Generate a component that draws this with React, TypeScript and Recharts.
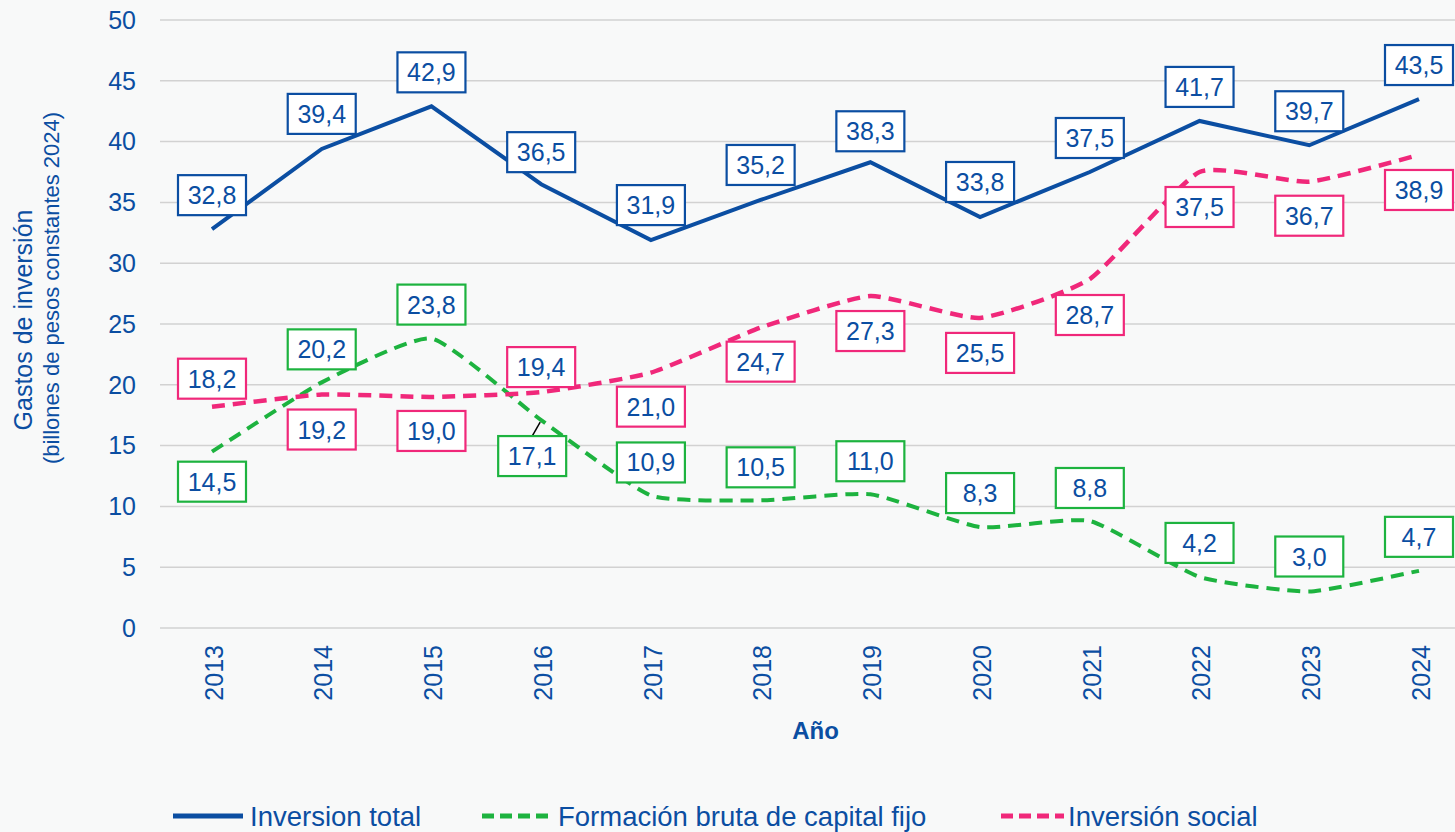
import React from 'react';
import { LineChart, Line, XAxis, YAxis, CartesianGrid, LabelList } from 'recharts';

// ---------- data ----------
const years = ['2013', '2014', '2015', '2016', '2017', '2018', '2019', '2020', '2021', '2022', '2023', '2024'];
const inversionTotal = [32.8, 39.4, 42.9, 36.5, 31.9, 35.2, 38.3, 33.8, 37.5, 41.7, 39.7, 43.5];
const formacionBruta = [14.5, 20.2, 23.8, 17.1, 10.9, 10.5, 11.0, 8.3, 8.8, 4.2, 3.0, 4.7];
const inversionSocial = [18.2, 19.2, 19.0, 19.4, 21.0, 24.7, 27.3, 25.5, 28.7, 37.5, 36.7, 38.9];
const yTicks = [0, 5, 10, 15, 20, 25, 30, 35, 40, 45, 50];
const seriesNames = ['Inversion total', 'Formación bruta de capital fijo', 'Inversión social'];

// ---------- layout (label placement, not data) ----------
const totalLabelDy = [-34, -35, -34, -32, -35, -35, -31, -35, -34, -34, -34, -34];
const fbkfLabelDy = [30, -33, -34, 36, -33, -33, -33, -34, -33, -34, -35, -34];
const fbkfLabelDx = [0, 0, 0, -9, 0, 0, 0, 0, 0, 0, 0, 0];
const socialLabelDy = [-28, 35, 34, -25, 34, 34, 35, 35, 36, 35, 34, 35];

const BLUE = '#0B4EA2';
const GREEN = '#1DB33F';
const PINK = '#F0287A';
const TEXT = '#0B4EA2';
const FONT = '"Liberation Sans", Arial, sans-serif';

const data = years.map((year, i) => ({
  year,
  total: inversionTotal[i],
  fbkf: formacionBruta[i],
  social: inversionSocial[i],
}));

const fmt = (v: number) => v.toFixed(1).replace('.', ',');

// Lightly smoothed line drawing (like spreadsheet "smoothed lines")
const smoothCurve = (context: any) => {
  let pts: [number, number][] = [];
  return {
    areaStart() {},
    areaEnd() {},
    lineStart() {
      pts = [];
    },
    point(x: number, y: number) {
      pts.push([+x, +y]);
    },
    lineEnd() {
      if (!pts.length) return;
      context.moveTo(pts[0][0], pts[0][1]);
      for (let i = 0; i < pts.length - 1; i++) {
        const p0 = pts[i - 1] || pts[i];
        const p1 = pts[i];
        const p2 = pts[i + 1];
        const p3 = pts[i + 2] || p2;
        const k = 12;
        context.bezierCurveTo(
          p1[0] + (p2[0] - p0[0]) / k,
          p1[1] + (p2[1] - p0[1]) / k,
          p2[0] - (p3[0] - p1[0]) / k,
          p2[1] - (p3[1] - p1[1]) / k,
          p2[0],
          p2[1]
        );
      }
    },
  };
};

const makeBoxLabel = (border: string, dys: number[], dxs?: number[], leaderIndex?: number) => (props: any) => {
  const { x, y, value, index } = props;
  if (x == null || y == null) return null;
  const dx = dxs ? dxs[index] : 0;
  const cx = x + dx;
  const cy = y + dys[index];
  const w = 68;
  const h = 40;
  return (
    <g>
      {leaderIndex === index && (
        <line x1={cx} y1={cy - h / 2} x2={x - 1} y2={y + 2} stroke="#000" strokeWidth={1.5} />
      )}
      <rect x={cx - w / 2} y={cy - h / 2} width={w} height={h} fill="#fff" stroke={border} strokeWidth={2.2} />
      <text
        x={cx}
        y={cy}
        dy="0.36em"
        textAnchor="middle"
        fontSize={25}
        fontFamily={FONT}
        fill={TEXT}
      >
        {fmt(Number(value))}
      </text>
    </g>
  );
};

const XTick = (props: any) => {
  const { x, y, payload } = props;
  return (
    <text
      x={x + 2}
      y={y}
      transform={`rotate(-90, ${x + 2}, ${y})`}
      textAnchor="end"
      dy="0.35em"
      fontSize={25}
      fontFamily={FONT}
      fill={TEXT}
    >
      {payload.value}
    </text>
  );
};

const XLabel = (props: any) => {
  const vb = props.viewBox || {};
  const cx = vb.x + vb.width / 2 + 8;
  return (
    <text x={cx} y={730} dy="0.36em" textAnchor="middle" fontSize={24} fontWeight="bold" fontFamily={FONT} fill={TEXT}>
      Año
    </text>
  );
};

const YLabel = () => (
  <g>
    <text
      x={23}
      y={320}
      transform="rotate(-90, 23, 320)"
      textAnchor="middle"
      dy="0.36em"
      fontSize={25}
      fontFamily={FONT}
      fill={TEXT}
    >
      Gastos de inversión
    </text>
    <text
      x={51}
      y={288}
      transform="rotate(-90, 51, 288)"
      textAnchor="middle"
      dy="0.36em"
      fontSize={22}
      fontFamily={FONT}
      fill={TEXT}
    >
      (billones de pesos constantes 2024)
    </text>
  </g>
);

const legendItems = [
  { name: seriesNames[0], color: BLUE, dash: undefined as string | undefined, x1: 173, x2: 243, tx: 250 },
  { name: seriesNames[1], color: GREEN, dash: '12 6', x1: 482, x2: 550, tx: 558 },
  { name: seriesNames[2], color: PINK, dash: '12 6', x1: 1001, x2: 1064, tx: 1068 },
];

const LegendOverlay = () => (
  <svg width={1455} height={60} style={{ position: 'absolute', left: 0, top: 786 }}>
    {legendItems.map((it) => (
      <g key={it.name}>
        <line x1={it.x1} y1={30} x2={it.x2} y2={30} stroke={it.color} strokeWidth={5} strokeDasharray={it.dash} />
        <text x={it.tx} y={30} dy="0.36em" fontSize={27.5} fontFamily={FONT} fill={TEXT}>
          {it.name}
        </text>
      </g>
    ))}
  </svg>
);

export default function App() {
  return (
    <div
      style={{
        position: 'absolute',
        left: 0,
        top: 0,
        width: 1455,
        height: 832,
        overflow: 'hidden',
        background: '#F8F9F9',
        fontFamily: FONT,
      }}
    >
      <LineChart width={1455} height={832} data={data} margin={{ top: 20, right: 0, left: 60, bottom: 134 }}>
        <CartesianGrid vertical={false} stroke="#D2D2D2" strokeWidth={1.5} />
        <XAxis
          dataKey="year"
          height={70}
          padding={{ left: 52, right: 36 }}
          axisLine={false}
          tickLine={false}
          tickSize={0}
          tickMargin={17}
          interval={0}
          tick={<XTick />}
          label={<XLabel />}
        />
        <YAxis
          width={100}
          domain={[0, 50]}
          ticks={yTicks}
          axisLine={false}
          tickLine={false}
          tickSize={0}
          tickMargin={24}
          tick={{ fontSize: 25, fill: TEXT, fontFamily: FONT }}
          label={<YLabel />}
        />
        <Line
          type="linear"
          dataKey="total"
          name={seriesNames[0]}
          stroke={BLUE}
          strokeWidth={4}
          dot={false}
          isAnimationActive={false}
        >
          <LabelList dataKey="total" content={makeBoxLabel(BLUE, totalLabelDy)} />
        </Line>
        <Line
          type={smoothCurve as any}
          dataKey="fbkf"
          name={seriesNames[1]}
          stroke={GREEN}
          strokeWidth={4}
          strokeDasharray="13 8"
          dot={false}
          isAnimationActive={false}
        >
          <LabelList dataKey="fbkf" content={makeBoxLabel(GREEN, fbkfLabelDy, fbkfLabelDx, 3)} />
        </Line>
        <Line
          type={smoothCurve as any}
          dataKey="social"
          name={seriesNames[2]}
          stroke={PINK}
          strokeWidth={4.5}
          strokeDasharray="13 8"
          dot={false}
          isAnimationActive={false}
        >
          <LabelList dataKey="social" content={makeBoxLabel(PINK, socialLabelDy)} />
        </Line>
      </LineChart>
      <LegendOverlay />
    </div>
  );
}
